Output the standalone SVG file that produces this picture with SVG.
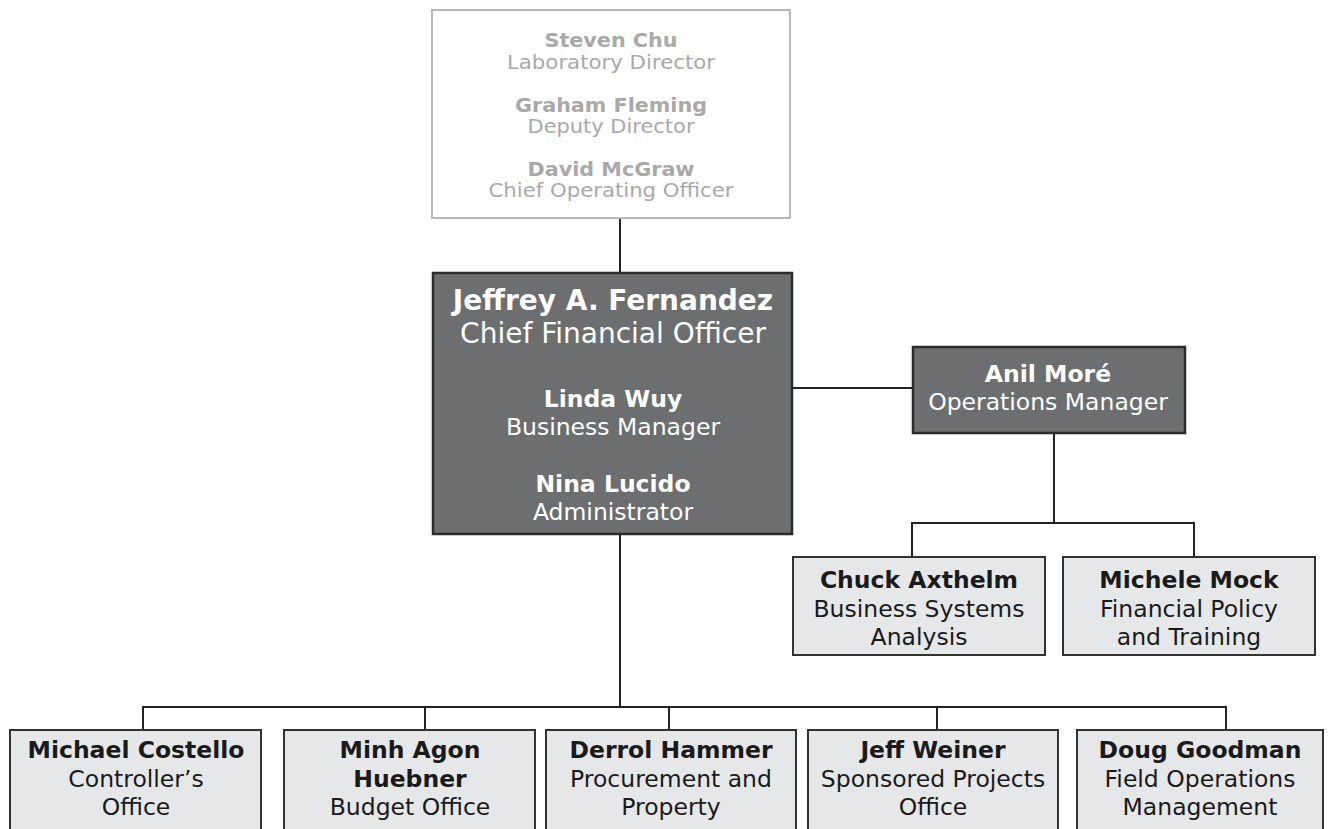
<svg xmlns="http://www.w3.org/2000/svg" width="1328" height="829" viewBox="0 0 1328 829">
<style>
text{font-family:"DejaVu Sans",Verdana,sans-serif;text-anchor:middle}
.b{font-weight:bold}
.top text{fill:#a9a9a9;font-size:19px}
.dark text{fill:#ffffff;font-size:23.5px}
.light text{fill:#1a1a1a;font-size:23.5px}
.dark rect{fill:#6c6e70;stroke:#2b2b2b;stroke-width:2.5}
.light rect{fill:#e6e7e9;stroke:#333;stroke-width:2}
#connectors path{fill:none;stroke:#222;stroke-width:2}
</style>
<rect width="1328" height="829" fill="#ffffff"/>
<g id="connectors">
<path d="M620 218V273"/>
<path d="M792 388H913"/>
<path d="M1054 433V523M912 557V523H1194V557"/>
<path d="M620 534V707M143 730V707H1226V730M425 707V730M669 707V730M937 707V730"/>
</g>
<g id="top" class="top">
<rect x="432" y="10" width="358" height="208" fill="#ffffff" stroke="#b8b8b8" stroke-width="2"/>
<text x="611" y="47" class="b" textLength="133" lengthAdjust="spacingAndGlyphs">Steven Chu</text>
<text x="611" y="69" textLength="208" lengthAdjust="spacingAndGlyphs">Laboratory Director</text>
<text x="611" y="112" class="b" textLength="192" lengthAdjust="spacingAndGlyphs">Graham Fleming</text>
<text x="611" y="133" textLength="167" lengthAdjust="spacingAndGlyphs">Deputy Director</text>
<text x="611" y="176" class="b" textLength="167" lengthAdjust="spacingAndGlyphs">David McGraw</text>
<text x="611" y="197" textLength="245" lengthAdjust="spacingAndGlyphs">Chief Operating Officer</text>
</g>
<g id="cfo" class="dark">
<rect x="433" y="273" width="359" height="261"/>
<text x="613" y="310" class="b" style="font-size:28px">Jeffrey A. Fernandez</text>
<text x="613" y="343" style="font-size:28px">Chief Financial Officer</text>
<text x="613" y="407" class="b">Linda Wuy</text>
<text x="613" y="435">Business Manager</text>
<text x="613" y="492" class="b">Nina Lucido</text>
<text x="613" y="520">Administrator</text>
</g>
<g id="anil" class="dark">
<rect x="913" y="347" width="272" height="86"/>
<text x="1048" y="382" class="b">Anil Moré</text>
<text x="1048" y="410">Operations Manager</text>
</g>
<g id="chuck" class="light">
<rect x="793" y="557" width="252" height="98"/>
<text x="919" y="588" class="b">Chuck Axthelm</text>
<text x="919" y="617">Business Systems</text>
<text x="919" y="645">Analysis</text>
</g>
<g id="michele" class="light">
<rect x="1063" y="557" width="252" height="98"/>
<text x="1189" y="588" class="b">Michele Mock</text>
<text x="1189" y="617">Financial Policy</text>
<text x="1189" y="645">and Training</text>
</g>
<g id="costello" class="light">
<rect x="10" y="730" width="251" height="110"/>
<text x="136" y="758" class="b">Michael Costello</text>
<text x="136" y="787">Controller’s</text>
<text x="136" y="815">Office</text>
</g>
<g id="huebner" class="light">
<rect x="284" y="730" width="251" height="110"/>
<text x="410" y="758" class="b">Minh Agon</text>
<text x="410" y="787" class="b">Huebner</text>
<text x="410" y="815">Budget Office</text>
</g>
<g id="hammer" class="light">
<rect x="546" y="730" width="250" height="110"/>
<text x="671" y="758" class="b">Derrol Hammer</text>
<text x="671" y="787">Procurement and</text>
<text x="671" y="815">Property</text>
</g>
<g id="weiner" class="light">
<rect x="808" y="730" width="250" height="110"/>
<text x="933" y="758" class="b">Jeff Weiner</text>
<text x="933" y="787">Sponsored Projects</text>
<text x="933" y="815">Office</text>
</g>
<g id="goodman" class="light">
<rect x="1077" y="730" width="246" height="110"/>
<text x="1200" y="758" class="b">Doug Goodman</text>
<text x="1200" y="787">Field Operations</text>
<text x="1200" y="815">Management</text>
</g>
</svg>
